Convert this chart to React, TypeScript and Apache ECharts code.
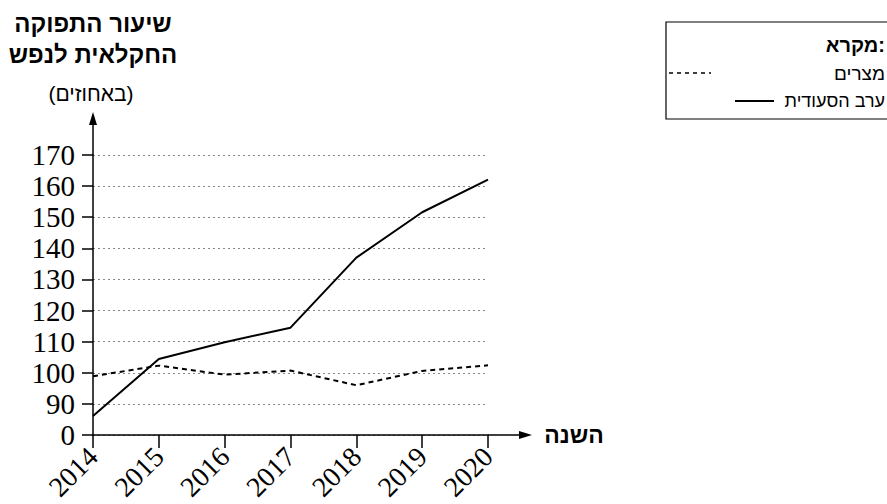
import React, { useEffect, useRef } from "react";
import * as echarts from "echarts";

const years = ["2014", "2015", "2016", "2017", "2018", "2019", "2020"];
const egypt = [98.9, 102.3, 99.4, 100.7, 96.0, 100.6, 102.4];
const saudi = [86.1, 104.4, 109.8, 114.5, 137.0, 151.6, 162.1];
const yTickLabels: Record<number, string> = { 80: "0" };

const titleLine1 = "שיעור התפוקה";
const titleLine2 = "החקלאית לנפש";
const titleUnit = "(באחוזים)";
const xName = "השנה";
const legendTitle = "מקרא:";
const egyptName = "מצרים";
const saudiName = "ערב הסעודית";

const HEB = "'Liberation Sans', 'DejaVu Sans', sans-serif";
const SERIF = "'Liberation Serif', 'DejaVu Serif', serif";

export default function App() {
  const ref = useRef<HTMLDivElement>(null);
  useEffect(() => {
    if (!ref.current) return;
    const chart = echarts.init(ref.current, null, { renderer: "svg" });
    const gl = 93, gt = 155, gw = 395, gh = 280;
    chart.setOption({
      animation: false,
      backgroundColor: "#fff",
      grid: { left: gl, top: gt, width: gw, height: gh, containLabel: false },
      xAxis: {
        type: "category",
        data: years,
        boundaryGap: false,
        axisLine: { show: true, lineStyle: { color: "#000", width: 1.5 } },
        axisTick: { show: true, length: 13, lineStyle: { color: "#000", width: 1.5 } },
        axisLabel: {
          rotate: 45,
          margin: 17,
          color: "#000",
          fontSize: 28,
          fontFamily: SERIF,
        },
        splitLine: { show: false },
      },
      yAxis: {
        type: "value",
        min: 80,
        max: 170,
        interval: 10,
        axisLine: { show: true, lineStyle: { color: "#000", width: 1.5 } },
        axisTick: { show: true, length: 11, lineStyle: { color: "#000", width: 1.5 } },
        axisLabel: {
          margin: 18,
          color: "#000",
          fontSize: 29,
          lineHeight: 29,
          fontFamily: SERIF,
          formatter: (v: number) => (yTickLabels[v] !== undefined ? yTickLabels[v] : String(v)),
        },
        splitLine: {
          show: true,
          lineStyle: { color: "#888", width: 1, type: [2, 3] },
        },
      },
      series: [
        {
          name: egyptName,
          type: "line",
          data: egypt,
          symbol: "none",
          lineStyle: { color: "#000", width: 2, type: [5, 4] },
          z: 3,
        },
        {
          name: saudiName,
          type: "line",
          data: saudi,
          symbol: "none",
          lineStyle: { color: "#000", width: 2, type: "solid" },
          z: 4,
        },
      ],
      graphic: [
        { type: "line", shape: { x1: gl, y1: gt, x2: gl, y2: 122 }, style: { stroke: "#000", lineWidth: 1.5 } },
        { type: "polygon", shape: { points: [[gl - 4, 125], [gl, 112], [gl + 4, 125]] }, style: { fill: "#000" } },
        { type: "line", shape: { x1: gl + gw, y1: gt + gh, x2: 522, y2: gt + gh }, style: { stroke: "#000", lineWidth: 1.5 } },
        { type: "polygon", shape: { points: [[519, gt + gh - 4], [532, gt + gh], [519, gt + gh + 4]] }, style: { fill: "#000" } },
        { type: "text", x: 93, y: 23, style: { text: titleLine1, fontSize: 24, fontWeight: "bold", fontFamily: HEB, fill: "#000", align: "center", verticalAlign: "middle" } },
        { type: "text", x: 93, y: 54, style: { text: titleLine2, fontSize: 24, fontWeight: "bold", fontFamily: HEB, fill: "#000", align: "center", verticalAlign: "middle" } },
        { type: "text", x: 91, y: 93, style: { text: titleUnit, fontSize: 21, fontFamily: HEB, fill: "#000", align: "center", verticalAlign: "middle" } },
        { type: "text", x: 574, y: gt + gh, style: { text: xName, fontSize: 23, fontWeight: "bold", fontFamily: HEB, fill: "#000", align: "center", verticalAlign: "middle" } },
        { type: "rect", shape: { x: 666, y: 22, width: 260, height: 97 }, style: { fill: "none", stroke: "#000", lineWidth: 1.2 } },
        { type: "text", x: 885, y: 45, style: { text: legendTitle, fontSize: 20, fontWeight: "bold", fontFamily: HEB, fill: "#000", align: "right", verticalAlign: "middle" } },
        { type: "text", x: 885, y: 73, style: { text: egyptName, fontSize: 19, fontFamily: HEB, fill: "#000", align: "right", verticalAlign: "middle" } },
        { type: "line", shape: { x1: 669, y1: 73, x2: 711, y2: 73 }, style: { stroke: "#000", lineWidth: 1.3, lineDash: [4, 4] } },
        { type: "text", x: 885, y: 101, style: { text: saudiName, fontSize: 18, fontFamily: HEB, fill: "#000", align: "right", verticalAlign: "middle" } },
        { type: "line", shape: { x1: 735, y1: 101, x2: 774, y2: 101 }, style: { stroke: "#000", lineWidth: 2 } },
      ],
    });
    return () => chart.dispose();
  }, []);
  return (
    <div
      ref={ref}
      style={{ position: "absolute", left: 0, top: 0, width: 887, height: 504, background: "#fff" }}
    />
  );
}
